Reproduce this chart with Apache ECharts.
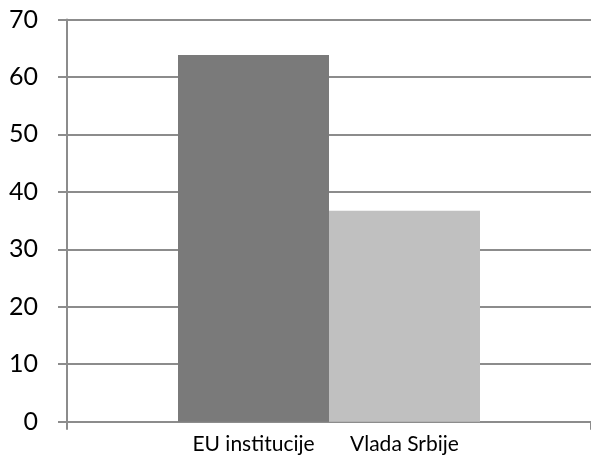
<!DOCTYPE html>
<html>
<head>
<meta charset="utf-8">
<script src="https://cdn.jsdelivr.net/npm/echarts@6/dist/echarts.min.js"></script>
<style>html,body{margin:0;padding:0;background:#fff}#c{width:591px;height:457px}</style>
</head>
<body>
<div id="c"></div>
<script>
var categories = [''];
var seriesNames = ['EU institucije', 'Vlada Srbije'];
var euValues = [63.8];
var vladaValues = [36.7];
var seriesColors = ['#7a7a7a', '#c0c0c0'];
var yTicks = {min: 0, max: 70, interval: 10};

var chart = echarts.init(document.getElementById('c'), null, {renderer: 'canvas'});
var lineStyle = {color: '#8c8c8c', width: 2};
function mkSeries(name, data, color) {
  return {
    name: name, type: 'bar', data: data, barWidth: 151, barGap: '0%',
    itemStyle: {color: color},
    label: {show: true, position: 'bottom', distance: 12, formatter: '{a}',
      fontFamily: 'Lato', fontSize: 21, lineHeight: 21, color: '#000'},
    animation: false
  };
}
chart.setOption({
  animation: false,
  grid: {left: 67, right: 0, top: 19.5, bottom: 35.3, containLabel: false},
  xAxis: {
    type: 'category', data: categories, boundaryGap: true,
    axisLine: {lineStyle: lineStyle},
    axisTick: {show: true, length: 8, lineStyle: lineStyle},
    axisLabel: {show: false},
    splitLine: {show: false}
  },
  yAxis: {
    type: 'value', min: yTicks.min, max: yTicks.max, interval: yTicks.interval,
    axisLine: {show: true, lineStyle: lineStyle},
    axisTick: {show: true, length: 9, lineStyle: lineStyle},
    axisLabel: {margin: 29, fontFamily: 'Lato', fontSize: 25, color: '#000'},
    splitLine: {show: true, lineStyle: lineStyle}
  },
  series: [
    mkSeries(seriesNames[0], euValues, seriesColors[0]),
    mkSeries(seriesNames[1], vladaValues, seriesColors[1])
  ]
});
</script>
</body>
</html>
